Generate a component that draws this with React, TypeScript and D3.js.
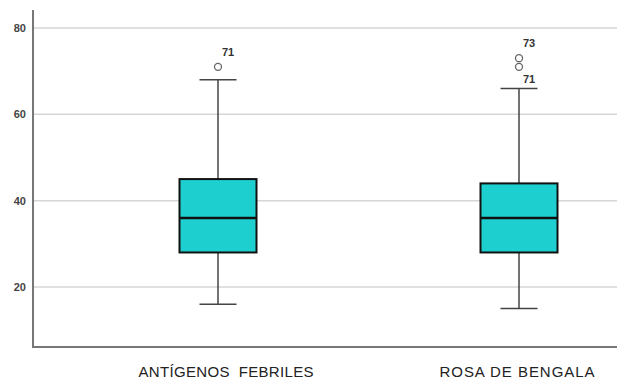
import React, { useEffect, useRef } from 'react';
import * as d3 from 'd3';

// groups and five-number summaries
const categories = ["ANTÍGENOS  FEBRILES", "ROSA DE BENGALA"];
const whiskerLow = [16, 15];
const q1 = [28, 28];
const median = [36, 36];
const q3 = [45, 44];
const whiskerHigh = [68, 66];
// outliers: group index, value, case label
const outliers = [
  { group: 0, value: 71, label: "71" },
  { group: 1, value: 73, label: "73" },
  { group: 1, value: 71, label: "71" }
];
const yTicks = [20, 40, 60, 80];

const App = () => {
  const svgRef = useRef<SVGSVGElement>(null);

  useEffect(() => {
    if (!svgRef.current) return;
    const svg = d3.select(svgRef.current);
    svg.selectAll("*").remove();

    const width = 617;
    const height = 380;
    const axisX = 33;
    const axisY = 347;
    const font = "'Liberation Sans', Arial, sans-serif";

    const y = d3.scaleLinear().domain([20, 80]).range([287, 28]);
    const x = d3.scalePoint<string>().domain(categories).range([218, 519]);
    const boxW = 77;
    const capW = 37;

    svg.attr("width", width).attr("height", height);

    // gridlines
    svg.append("g")
      .selectAll("line")
      .data(yTicks)
      .enter()
      .append("line")
      .attr("x1", axisX)
      .attr("x2", width)
      .attr("y1", d => y(d))
      .attr("y2", d => y(d))
      .attr("stroke", "#d6d6d6")
      .attr("stroke-width", 1.5);

    // tick labels
    svg.append("g")
      .selectAll("text")
      .data(yTicks)
      .enter()
      .append("text")
      .attr("x", 26)
      .attr("y", d => y(d))
      .attr("dy", "0.35em")
      .attr("text-anchor", "end")
      .attr("font-family", font)
      .attr("font-size", "11px")
      .attr("font-weight", "bold")
      .attr("fill", "#444")
      .text(d => d);

    // axes
    svg.append("line")
      .attr("x1", axisX).attr("x2", axisX)
      .attr("y1", 10).attr("y2", axisY)
      .attr("stroke", "#777").attr("stroke-width", 2);
    svg.append("line")
      .attr("x1", axisX - 1).attr("x2", width)
      .attr("y1", axisY).attr("y2", axisY)
      .attr("stroke", "#777").attr("stroke-width", 2);

    categories.forEach((c, i) => {
      const cx = x(c)!;
      const g = svg.append("g");
      // whiskers
      g.append("line")
        .attr("x1", cx).attr("x2", cx)
        .attr("y1", y(whiskerHigh[i])).attr("y2", y(q3[i]))
        .attr("stroke", "#444").attr("stroke-width", 1.5);
      g.append("line")
        .attr("x1", cx).attr("x2", cx)
        .attr("y1", y(q1[i])).attr("y2", y(whiskerLow[i]))
        .attr("stroke", "#444").attr("stroke-width", 1.5);
      [whiskerHigh[i], whiskerLow[i]].forEach(v => {
        g.append("line")
          .attr("x1", cx - capW / 2).attr("x2", cx + capW / 2)
          .attr("y1", y(v)).attr("y2", y(v))
          .attr("stroke", "#444").attr("stroke-width", 1.5);
      });
      // box
      g.append("rect")
        .attr("x", cx - boxW / 2)
        .attr("y", y(q3[i]))
        .attr("width", boxW)
        .attr("height", y(q1[i]) - y(q3[i]))
        .attr("fill", "#1ecfcf")
        .attr("stroke", "#111")
        .attr("stroke-width", 2);
      g.append("line")
        .attr("x1", cx - boxW / 2).attr("x2", cx + boxW / 2)
        .attr("y1", y(median[i])).attr("y2", y(median[i]))
        .attr("stroke", "#111").attr("stroke-width", 2.5);
    });

    // outliers
    outliers.forEach(o => {
      const cx = x(categories[o.group])!;
      svg.append("circle")
        .attr("cx", cx)
        .attr("cy", y(o.value))
        .attr("r", 3.5)
        .attr("fill", "#fff")
        .attr("stroke", "#666")
        .attr("stroke-width", 1.3);
      const above = !(o.group === 1 && o.value === 71);
      svg.append("text")
        .attr("x", cx + 4)
        .attr("y", y(o.value) + (above ? -11 : 16))
        .attr("font-family", font)
        .attr("font-size", "11px")
        .attr("font-weight", "bold")
        .attr("fill", "#333")
        .text(o.label);
    });

    // category labels
    const labelShift = [8, -2];
    const labelLen = [175, 155];
    svg.append("g")
      .selectAll("text")
      .data(categories)
      .enter()
      .append("text")
      .attr("x", (d, i) => x(d)! + labelShift[i] - labelLen[i] / 2)
      .attr("y", 377)
      .attr("textLength", (d, i) => labelLen[i])
      .attr("lengthAdjust", "spacing")
      .attr("font-family", font)
      .attr("font-size", "15px")
      .attr("fill", "#222")
      .style("white-space", "pre")
      .text(d => d);
  }, []);

  return <svg ref={svgRef} style={{ position: "absolute", left: 0, top: 0, display: "block" }}></svg>;
};

export default App;
